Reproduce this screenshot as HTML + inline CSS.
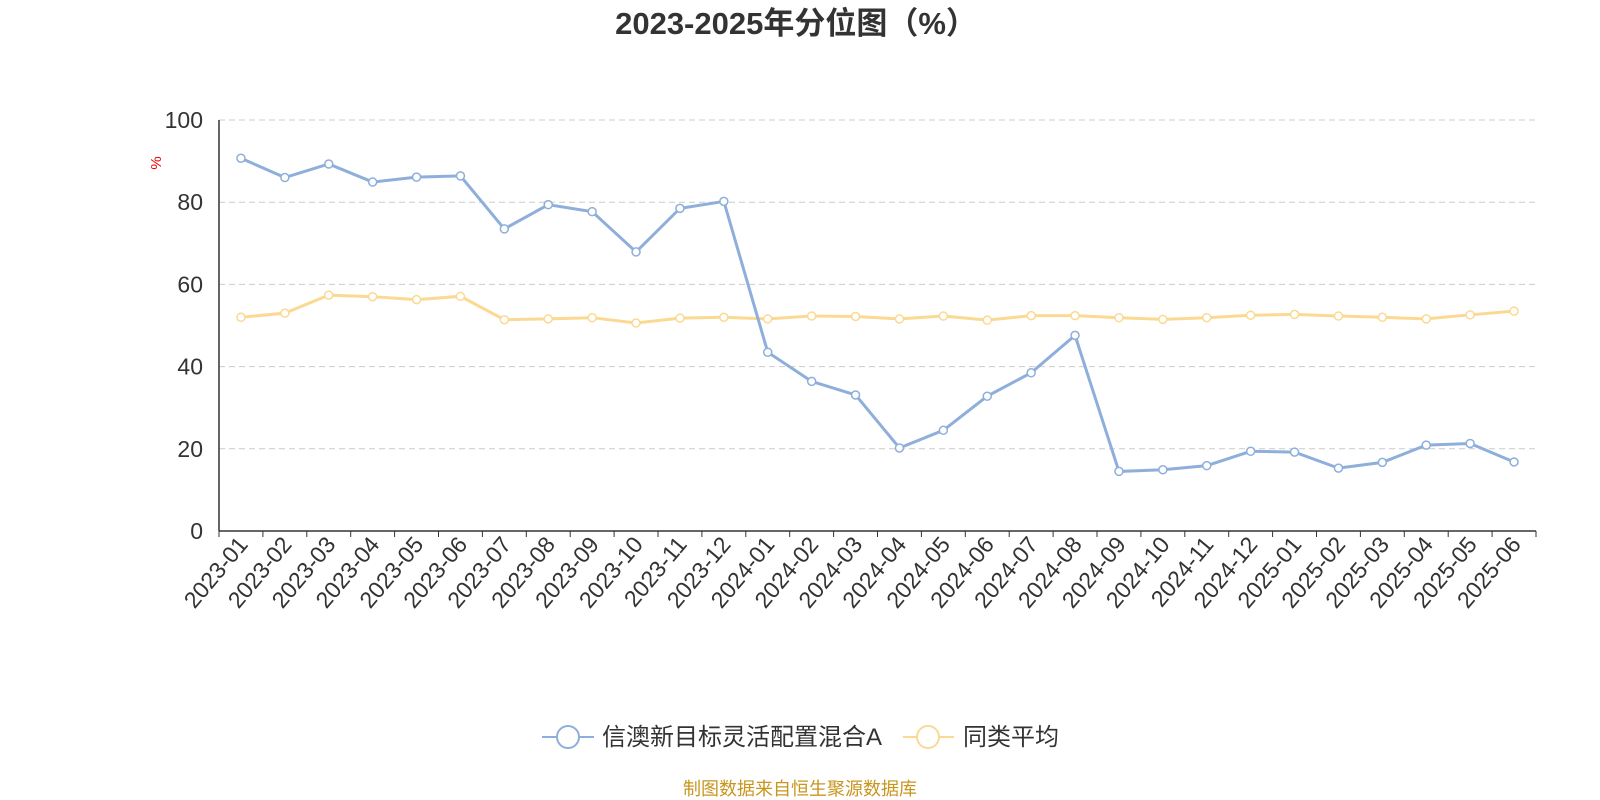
<!DOCTYPE html>
<html><head><meta charset="utf-8"><style>
body{margin:0;background:#fff;}
svg{display:block;font-family:"Liberation Sans","Noto Sans CJK SC",sans-serif;}
</style></head><body>
<svg id="chart" width="1600" height="800">
<text x="796" y="34" text-anchor="middle" font-size="31" font-weight="bold" fill="#333">2023-2025年分位图（%）</text>
<text x="161" y="163" font-size="15" fill="#e00" transform="rotate(-90 161 163)" text-anchor="middle">%</text>
<g id="grid"></g><g id="axes"></g><g id="series"></g>
<g>
<g>
<line x1="542" y1="737" x2="594" y2="737" stroke="#8eaedb" stroke-width="2"/>
<circle cx="568" cy="737" r="11" fill="#fff" stroke="#8eaedb" stroke-width="2"/>
<text x="602" y="745" font-size="24" fill="#333">信澳新目标灵活配置混合A</text></g>
<g>
<line x1="903" y1="737" x2="954" y2="737" stroke="#fbd992" stroke-width="2"/>
<circle cx="928" cy="737" r="11" fill="#fff" stroke="#fbd992" stroke-width="2"/>
<text x="963" y="745" font-size="24" fill="#333">同类平均</text></g>
</g>
<text x="800" y="795" text-anchor="middle" font-size="18" fill="#c8961e">制图数据来自恒生聚源数据库</text>
</svg>
<script>
const categories=["2023-01","2023-02","2023-03","2023-04","2023-05","2023-06","2023-07","2023-08","2023-09","2023-10","2023-11","2023-12","2024-01","2024-02","2024-03","2024-04","2024-05","2024-06","2024-07","2024-08","2024-09","2024-10","2024-11","2024-12","2025-01","2025-02","2025-03","2025-04","2025-05","2025-06"];
const fundValues=[90.7,86,89.3,84.9,86.1,86.4,73.5,79.4,77.7,67.9,78.5,80.2,43.5,36.4,33.1,20.2,24.5,32.8,38.5,47.6,14.5,14.9,15.9,19.4,19.2,15.3,16.7,20.9,21.3,16.8];
const avgValues=[52,53,57.4,57,56.3,57.1,51.4,51.6,51.9,50.6,51.8,52,51.6,52.3,52.2,51.6,52.3,51.3,52.4,52.4,51.9,51.5,51.9,52.5,52.7,52.3,52,51.6,52.6,53.5];
const yTicks=[0,20,40,60,80,100];
const NS="http://www.w3.org/2000/svg";
const X0=219,X1=1536,Y0=531,Y1=120;
const band=(X1-X0)/categories.length;
const xs=i=>X0+band*(i+0.5);
const ys=v=>Y0-(v/100)*(Y0-Y1);
function mk(t,a,p){const e=document.createElementNS(NS,t);for(const k in a)e.setAttribute(k,a[k]);p.appendChild(e);return e;}
const grid=document.getElementById('grid'),axes=document.getElementById('axes'),series=document.getElementById('series');
yTicks.forEach(v=>{
 if(v>0){const l=mk('line',{x1:X0,x2:X1,y1:ys(v),y2:ys(v),stroke:'#ccc','stroke-dasharray':'6,4'},grid);
 
 }
 const t=mk('text',{x:X0-16,y:ys(v)+8,'text-anchor':'end','font-size':23,fill:'#333'},axes);t.textContent=v;
 
 
});
const ya=mk('line',{x1:X0,x2:X0,y1:Y1,y2:Y0,stroke:'#333','stroke-width':1.5},axes);


const xa=mk('line',{x1:X0,x2:X1,y1:Y0,y2:Y0,stroke:'#333','stroke-width':1.5},axes);


for(let i=0;i<=categories.length;i++){mk('line',{x1:X0+band*i,x2:X0+band*i,y1:Y0,y2:Y0+6,stroke:'#333'},axes);}
categories.forEach((c,i)=>{
 const x=xs(i)+8,y=Y0+14;
 const t=mk('text',{x:x,y:y,'text-anchor':'end','font-size':23,fill:'#333',transform:`rotate(-50 ${x} ${y})`},axes);t.textContent=c;
 
 
});
function draw(vals,color,name){
 const p=mk('polyline',{points:vals.map((v,i)=>xs(i)+','+ys(v)).join(' '),fill:'none',stroke:color,'stroke-width':3},series);
 
 
 vals.forEach((v,i)=>{const c=mk('circle',{cx:xs(i),cy:ys(v),r:4,fill:'#fff',stroke:color,'stroke-width':1.5},series);
 
 });
}
draw(avgValues,'#fbd992','average');
draw(fundValues,'#8eaedb','fund');
</script>
</body></html>
